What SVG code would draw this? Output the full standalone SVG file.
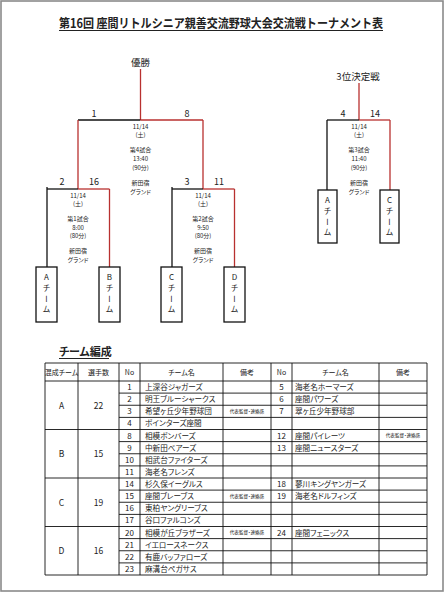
<svg xmlns="http://www.w3.org/2000/svg" width="448" height="593" viewBox="0 0 448 593">
<style>
text{font-family:"Noto Sans CJK JP","Noto Sans",sans-serif;fill:#222}
.title{font-size:12.5px;font-weight:bold;text-anchor:middle}
.h2{font-size:11px;font-weight:bold;font-feature-settings:"palt"}
.ul{stroke:#222;stroke-width:1}
.blk{stroke:#111;stroke-width:1.3;fill:none}
.red{stroke:#b8312f;stroke-width:1.3;fill:none}
.num{font-size:9px;text-anchor:middle}
.lbl{font-size:9.5px;text-anchor:middle}
.sm{font-size:6px;text-anchor:middle;font-feature-settings:"palt"}
.box{fill:#fff;stroke:#111;stroke-width:1.3}
.vt{font-size:8px;writing-mode:vertical-rl;text-orientation:upright;letter-spacing:2.8px}
.tl{stroke:#111;stroke-width:0.9}
.th{font-size:7px;text-anchor:middle;font-feature-settings:"palt"}
.td{font-size:7.6px;font-feature-settings:"palt"}
.tn{font-size:8px;text-anchor:middle}
.tg{font-size:8.5px;text-anchor:middle}
.bk{font-size:4.6px;text-anchor:middle;font-feature-settings:"palt"}
</style>
<rect x="1" y="1" width="442" height="590" fill="#fff" stroke="#8a8a8a" stroke-width="1.6"/>

<g id="title">
<text class="title" x="221" y="28" textLength="324" lengthAdjust="spacingAndGlyphs">第16回 座間リトルシニア親善交流野球大会交流戦トーナメント表</text>
<line class="ul" x1="59" y1="30.5" x2="383" y2="30.5"/>
</g>

<g id="connectors">
<!-- main bracket -->
<line class="red" x1="140.5" y1="69" x2="140.5" y2="120"/>
<line class="blk" x1="78" y1="120" x2="140.5" y2="120"/>
<line class="red" x1="140.5" y1="120" x2="203" y2="120"/>
<line class="red" x1="78" y1="120" x2="78" y2="189"/>
<line class="red" x1="203" y1="120" x2="203" y2="189"/>
<!-- left sub -->
<line class="blk" x1="47" y1="189" x2="78" y2="189"/>
<line class="red" x1="78" y1="189" x2="109.5" y2="189"/>
<line class="blk" x1="47" y1="187" x2="47" y2="267"/>
<line class="red" x1="109.5" y1="189" x2="109.5" y2="267"/>
<!-- right sub -->
<line class="blk" x1="172" y1="189" x2="203" y2="189"/>
<line class="red" x1="203" y1="189" x2="234.5" y2="189"/>
<line class="blk" x1="172" y1="187" x2="172" y2="267"/>
<line class="red" x1="234.5" y1="189" x2="234.5" y2="267"/>
<!-- third place -->
<line class="red" x1="359" y1="83" x2="359" y2="120"/>
<line class="blk" x1="327" y1="120" x2="359" y2="120"/>
<line class="red" x1="359" y1="120" x2="390" y2="120"/>
<line class="blk" x1="327" y1="120" x2="327" y2="190"/>
<line class="red" x1="390" y1="120" x2="390" y2="190"/>
</g>

<g id="final">
<text class="lbl" x="140.5" y="65.5">優勝</text>
<text class="num" x="94" y="117">1</text>
<text class="num" x="187" y="117">8</text>
<text class="sm" x="140.5" y="128.5">11/14</text>
<text class="sm" x="140.5" y="136.5">(土)</text>
<text class="sm" x="140.5" y="151.5">第4試合</text>
<text class="sm" x="140.5" y="160.5">13:40</text>
<text class="sm" x="140.5" y="169.5">(90分)</text>
<text class="sm" x="140.5" y="184.5">新田宿</text>
<text class="sm" x="140.5" y="194">グランド</text>
</g>

<g id="match1">
<text class="num" x="62" y="185">2</text>
<text class="num" x="94" y="185">16</text>
<text class="sm" x="78" y="197.5">11/14</text>
<text class="sm" x="78" y="205.5">(土)</text>
<text class="sm" x="78" y="220.5">第1試合</text>
<text class="sm" x="78" y="229.5">8:00</text>
<text class="sm" x="78" y="237.5">(80分)</text>
<text class="sm" x="78" y="252.5">新田宿</text>
<text class="sm" x="78" y="262">グランド</text>
</g>

<g id="match2">
<text class="num" x="187" y="185">3</text>
<text class="num" x="219" y="185">11</text>
<text class="sm" x="203" y="197.5">11/14</text>
<text class="sm" x="203" y="205.5">(土)</text>
<text class="sm" x="203" y="220.5">第2試合</text>
<text class="sm" x="203" y="229.5">9:50</text>
<text class="sm" x="203" y="237.5">(80分)</text>
<text class="sm" x="203" y="252.5">新田宿</text>
<text class="sm" x="203" y="262">グランド</text>
</g>

<g id="match3">
<text class="lbl" x="358" y="79.5">3位決定戦</text>
<text class="num" x="343" y="117">4</text>
<text class="num" x="375" y="117">14</text>
<text class="sm" x="359" y="128.5">11/14</text>
<text class="sm" x="359" y="136.5">(土)</text>
<text class="sm" x="359" y="151.5">第3試合</text>
<text class="sm" x="359" y="160.5">11:40</text>
<text class="sm" x="359" y="169.5">(90分)</text>
<text class="sm" x="359" y="184.5">新田宿</text>
<text class="sm" x="359" y="194">グランド</text>
</g>

<g id="teamA">
<rect class="box" x="36" y="267" width="21" height="55"/>
<text class="vt" x="46.5" y="273">Aチーム</text>
</g>
<g id="teamB">
<rect class="box" x="99" y="267" width="21" height="55"/>
<text class="vt" x="109.5" y="273">Bチーム</text>
</g>
<g id="teamC">
<rect class="box" x="161" y="267" width="21" height="55"/>
<text class="vt" x="171.5" y="273">Cチーム</text>
</g>
<g id="teamD">
<rect class="box" x="224" y="267" width="21" height="55"/>
<text class="vt" x="234.5" y="273">Dチーム</text>
</g>
<g id="teamA3">
<rect class="box" x="318" y="190" width="19" height="53"/>
<text class="vt" x="327.5" y="196">Aチーム</text>
</g>
<g id="teamC3">
<rect class="box" x="380" y="190" width="19" height="53"/>
<text class="vt" x="389.5" y="196">Cチーム</text>
</g>

<g id="team-table">
<text class="h2" x="59" y="356">チーム編成</text>
<line class="ul" x1="59" y1="358.5" x2="109" y2="358.5"/>
<g class="tl">
<line x1="45" y1="363" x2="45" y2="575"/>
<line x1="78" y1="363" x2="78" y2="575"/>
<line x1="119" y1="363" x2="119" y2="575"/>
<line x1="140" y1="363" x2="140" y2="575"/>
<line x1="223" y1="363" x2="223" y2="575"/>
<line x1="271" y1="363" x2="271" y2="575"/>
<line x1="292" y1="363" x2="292" y2="575"/>
<line x1="379" y1="363" x2="379" y2="575"/>
<line x1="427" y1="363" x2="427" y2="575"/>
<line x1="45" y1="363" x2="427" y2="363"/>
<line x1="45" y1="381" x2="427" y2="381"/>
<line x1="45" y1="429.5" x2="427" y2="429.5"/>
<line x1="45" y1="478" x2="427" y2="478"/>
<line x1="45" y1="526.5" x2="427" y2="526.5"/>
<line x1="45" y1="575" x2="427" y2="575"/>
<line x1="119" y1="393.1" x2="427" y2="393.1"/>
<line x1="119" y1="405.25" x2="427" y2="405.25"/>
<line x1="119" y1="417.4" x2="427" y2="417.4"/>
<line x1="119" y1="441.6" x2="427" y2="441.6"/>
<line x1="119" y1="453.75" x2="427" y2="453.75"/>
<line x1="119" y1="465.9" x2="427" y2="465.9"/>
<line x1="119" y1="490.1" x2="427" y2="490.1"/>
<line x1="119" y1="502.25" x2="427" y2="502.25"/>
<line x1="119" y1="514.4" x2="427" y2="514.4"/>
<line x1="119" y1="538.6" x2="427" y2="538.6"/>
<line x1="119" y1="550.75" x2="427" y2="550.75"/>
<line x1="119" y1="562.9" x2="427" y2="562.9"/>
</g>
<text class="th" x="61.5" y="374.5">混成チーム</text>
<text class="th" x="98.5" y="374.5">選手数</text>
<text class="th" x="129.5" y="374.5">No</text>
<text class="th" x="181.5" y="374.5">チーム名</text>
<text class="th" x="247" y="374.5">備考</text>
<text class="th" x="281.5" y="374.5">No</text>
<text class="th" x="335.5" y="374.5">チーム名</text>
<text class="th" x="403" y="374.5">備考</text>
<text class="tg" x="61.5" y="408.5">A</text><text class="tg" x="98.5" y="408.5">22</text>
<text class="tg" x="61.5" y="457">B</text><text class="tg" x="98.5" y="457">15</text>
<text class="tg" x="61.5" y="505.5">C</text><text class="tg" x="98.5" y="505.5">19</text>
<text class="tg" x="61.5" y="554">D</text><text class="tg" x="98.5" y="554">16</text>
<text class="tn" x="129.5" y="390">1</text><text class="td" x="145" y="390">上深谷ジャガーズ</text>
<text class="tn" x="129.5" y="402.1">2</text><text class="td" x="145" y="402.1">明王ブルーシャークス</text>
<text class="tn" x="129.5" y="414.3">3</text><text class="td" x="145" y="414.3">希望ヶ丘少年野球団</text>
<text class="tn" x="129.5" y="426.4">4</text><text class="td" x="145" y="426.4">ポインターズ座間</text>
<text class="tn" x="129.5" y="438.5">8</text><text class="td" x="145" y="438.5">相模ボンバーズ</text>
<text class="tn" x="129.5" y="450.6">9</text><text class="td" x="145" y="450.6">中新田ベアーズ</text>
<text class="tn" x="129.5" y="462.8">10</text><text class="td" x="145" y="462.8">相武台ファイターズ</text>
<text class="tn" x="129.5" y="474.9">11</text><text class="td" x="145" y="474.9">海老名フレンズ</text>
<text class="tn" x="129.5" y="487">14</text><text class="td" x="145" y="487">杉久保イーグルス</text>
<text class="tn" x="129.5" y="499.1">15</text><text class="td" x="145" y="499.1">座間ブレーブス</text>
<text class="tn" x="129.5" y="511.3">16</text><text class="td" x="145" y="511.3">東柏ヤングリーブス</text>
<text class="tn" x="129.5" y="523.4">17</text><text class="td" x="145" y="523.4">谷口ファルコンズ</text>
<text class="tn" x="129.5" y="535.5">20</text><text class="td" x="145" y="535.5">相模が丘ブラザーズ</text>
<text class="tn" x="129.5" y="547.6">21</text><text class="td" x="145" y="547.6">イエロースネークス</text>
<text class="tn" x="129.5" y="559.8">22</text><text class="td" x="145" y="559.8">有鹿バッファローズ</text>
<text class="tn" x="129.5" y="571.9">23</text><text class="td" x="145" y="571.9">麻溝台ペガサス</text>
<text class="tn" x="281.5" y="390">5</text><text class="td" x="295" y="390">海老名ホーマーズ</text>
<text class="tn" x="281.5" y="402.1">6</text><text class="td" x="295" y="402.1">座間パワーズ</text>
<text class="tn" x="281.5" y="414.3">7</text><text class="td" x="295" y="414.3">翠ヶ丘少年野球部</text>
<text class="tn" x="281.5" y="438.5">12</text><text class="td" x="295" y="438.5">座間パイレーツ</text>
<text class="tn" x="281.5" y="450.6">13</text><text class="td" x="295" y="450.6">座間ニュースターズ</text>
<text class="tn" x="281.5" y="487">18</text><text class="td" x="295" y="487">蓼川キングヤンガーズ</text>
<text class="tn" x="281.5" y="499.1">19</text><text class="td" x="295" y="499.1">海老名ドルフィンズ</text>
<text class="tn" x="281.5" y="535.5">24</text><text class="td" x="295" y="535.5">座間フェニックス</text>
<text class="bk" x="247" y="413">代表監督・連絡係</text>
<text class="bk" x="247" y="497.8">代表監督・連絡係</text>
<text class="bk" x="247" y="534.2">代表監督・連絡係</text>
<text class="bk" x="403" y="437.2">代表監督・連絡係</text>
</g>
</svg>
